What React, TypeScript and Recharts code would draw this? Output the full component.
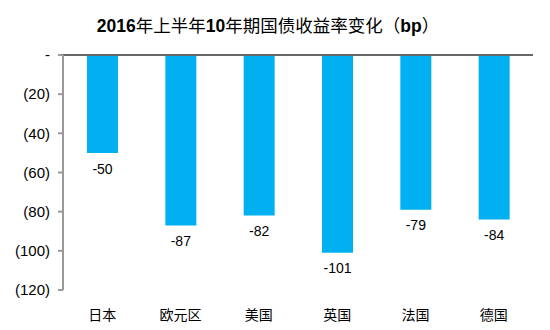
import { Bar, BarChart, LabelList, ReferenceLine, XAxis, YAxis } from "recharts";

const regions = ["日本", "欧元区", "美国", "英国", "法国", "德国"];
const changes = [-50, -87, -82, -101, -79, -84];
const yTicks = [0, -20, -40, -60, -80, -100, -120];
const boundaryTicks = [0, 1, 2, 3, 4, 5, 6];

const data = regions.map((region, i) => ({ region, change: changes[i], pos: i + 0.5 }));

const font = "Arial, 'Liberation Sans', 'Noto Sans CJK SC', sans-serif";
const cjk = "'Noto Sans CJK SC', sans-serif";
const tickStyle = { fontSize: 14, fill: "#000", fontFamily: font };

const formatY = (v: number) => (v === 0 ? "-" : `(${Math.abs(v)})`);

const ValueLabel = (props: any) => {
  const { x, y, width, height, value } = props;
  const bottom = Math.max(y, y + height);
  return (
    <text
      x={x + width / 2}
      y={bottom + 17}
      textAnchor="middle"
      dominantBaseline="middle"
      fontSize={14}
      fontFamily={font}
      fill="#000"
    >
      {value}
    </text>
  );
};

export default function App() {
  return (
    <div style={{ position: "absolute", left: 0, top: 0, width: 550, height: 330, background: "#fff" }}>
      <div
        style={{
          position: "absolute",
          top: 13,
          left: 0,
          width: 536,
          textAlign: "center",
          fontFamily: font,
          fontSize: 17.5,
          lineHeight: "24px",
          color: "#000",
          whiteSpace: "nowrap",
        }}
      >
        <b>2016</b>
        <span style={{ fontFamily: cjk }}>年上半年</span>
        <b>10</b>
        <span style={{ fontFamily: cjk }}>年期国债收益率变化（</span>
        <b>bp</b>
        <span style={{ fontFamily: cjk }}>）</span>
      </div>
      <BarChart
        width={550}
        height={330}
        data={data}
        margin={{ top: 54, right: 17, left: 0, bottom: 0 }}
      >
        <XAxis
          dataKey="region"
          tickLine={false}
          axisLine={false}
          tick={tickStyle}
          tickMargin={14}
          height={40}
        />
        <XAxis
          xAxisId="top"
          type="number"
          orientation="top"
          dataKey="pos"
          domain={[0, 6]}
          ticks={boundaryTicks}
          tick={false}
          tickSize={-4}
          height={1}
          stroke="#666666"
          strokeWidth={2}
        />
        <YAxis
          domain={[-120, 0]}
          ticks={yTicks}
          tickFormatter={formatY}
          tick={{ ...tickStyle, fontSize: 15 }}
          width={63}
          tickSize={5}
          tickMargin={8}
          stroke="#999999"
          strokeWidth={2}
        />
        <ReferenceLine y={0} stroke="#666666" strokeWidth={2} ifOverflow="visible" />
        <Bar dataKey="change" fill="#00B0F0" barSize={31} isAnimationActive={false}>
          <LabelList dataKey="change" content={ValueLabel} />
        </Bar>
      </BarChart>
    </div>
  );
}
